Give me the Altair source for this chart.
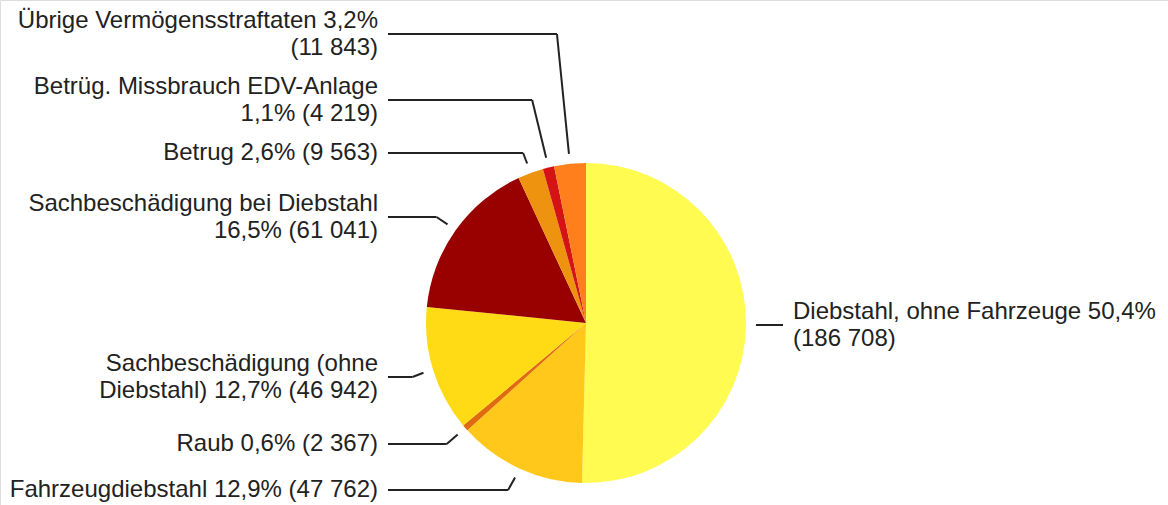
import altair as alt
import pandas as pd

# ---- data ----
categories = [
    "Diebstahl, ohne Fahrzeuge",
    "Fahrzeugdiebstahl",
    "Raub",
    "Sachbeschädigung (ohne Diebstahl)",
    "Sachbeschädigung bei Diebstahl",
    "Betrug",
    "Betrüg. Missbrauch EDV-Anlage",
    "Übrige Vermögensstraftaten",
]
counts = [186708, 47762, 2367, 46942, 61041, 9563, 4219, 11843]
labels = [
    "Diebstahl, ohne Fahrzeuge 50,4%\n(186 708)",
    "Fahrzeugdiebstahl 12,9% (47 762)",
    "Raub 0,6% (2 367)",
    "Sachbeschädigung (ohne\nDiebstahl) 12,7% (46 942)",
    "Sachbeschädigung bei Diebstahl\n16,5% (61 041)",
    "Betrug 2,6% (9 563)",
    "Betrüg. Missbrauch EDV-Anlage\n1,1% (4 219)",
    "Übrige Vermögensstraftaten 3,2%\n(11 843)",
]
colors = ["#FFFB50", "#FFC81A", "#E06A10", "#FFDB16",
          "#990000", "#EE930F", "#D41414", "#FF7F1C"]

# ---- layout (pixels) ----
W, H = 1168, 505
CX, CY, R = 586, 323, 160
R_LEAD = 170
label_y = [325, 490, 444, 377, 217, 153, 100, 34]
elbow_dx = [0, 7, 11, 11, 11, 4, 14, 12]
LEFT_TEXT_X, LEFT_LINE_X = 378, 388
RIGHT_TEXT_X, RIGHT_LINE_X = 793, 783
FONT = "Liberation Sans"
FS = 24
LH = 27
INK = "#222222"

df = pd.DataFrame({
    "cat": categories,
    "n": counts,
    "label": labels,
    "nlines": [s.count("\n") + 1 for s in labels],
    "ord": list(range(len(categories))),
    "ly": label_y,
    "edx": elbow_dx,
})

base = alt.Chart(df)

pie = base.mark_arc(radius=R, stroke=None).encode(
    theta=alt.Theta("n:Q", stack=True),
    color=alt.Color("cat:N", scale=alt.Scale(domain=categories, range=colors), legend=None),
    order=alt.Order("ord:Q", sort="ascending"),
    x=alt.value(CX),
    y=alt.value(CY),
)

geo = base.transform_window(
    cum="sum(n)", sort=[alt.SortField("ord", order="ascending")], frame=[None, 0]
).transform_joinaggregate(
    total="sum(n)"
).transform_calculate(
    mid="(datum.cum - datum.n/2) / datum.total * 2 * PI",
).transform_calculate(
    ex=f"{CX} + {R_LEAD} * sin(datum.mid)",
    ey=f"{CY} - {R_LEAD} * cos(datum.mid)",
    right="sin(datum.mid) > 0",
    ty=f"datum.ly - (datum.nlines - 1) * {LH} / 2",
).transform_calculate(
    bx="datum.right ? datum.ex : datum.ex - datum.edx",
    lx=f"datum.right ? {RIGHT_LINE_X} : {LEFT_LINE_X}",
)

seg1 = geo.mark_rule(color=INK, strokeWidth=2).encode(
    x=alt.X("lx:Q", scale=None, axis=None),
    x2="bx:Q",
    y=alt.Y("ly:Q", scale=None, axis=None),
    y2="ly:Q",
)
seg2 = geo.mark_rule(color=INK, strokeWidth=2).encode(
    x=alt.X("bx:Q", scale=None, axis=None),
    x2="ex:Q",
    y=alt.Y("ly:Q", scale=None, axis=None),
    y2="ey:Q",
)

text_left = geo.transform_filter("!datum.right").mark_text(
    align="right", baseline="middle", font=FONT, fontSize=FS,
    lineBreak="\n", lineHeight=LH, color=INK,
).encode(
    x=alt.value(LEFT_TEXT_X),
    y=alt.Y("ty:Q", scale=None, axis=None),
    text="label:N",
)
text_right = geo.transform_filter("datum.right").mark_text(
    align="left", baseline="middle", font=FONT, fontSize=FS,
    lineBreak="\n", lineHeight=LH, color=INK,
).encode(
    x=alt.value(RIGHT_TEXT_X),
    y=alt.Y("ty:Q", scale=None, axis=None),
    text="label:N",
)

chart = alt.layer(pie, seg1, seg2, text_left, text_right).properties(
    width=W, height=H,
    autosize=alt.AutoSizeParams(type="none"),
    padding=0,
).configure_view(stroke=None).configure(background="white")

chart.save("out.html", embed_options={"renderer": "svg", "actions": False})
